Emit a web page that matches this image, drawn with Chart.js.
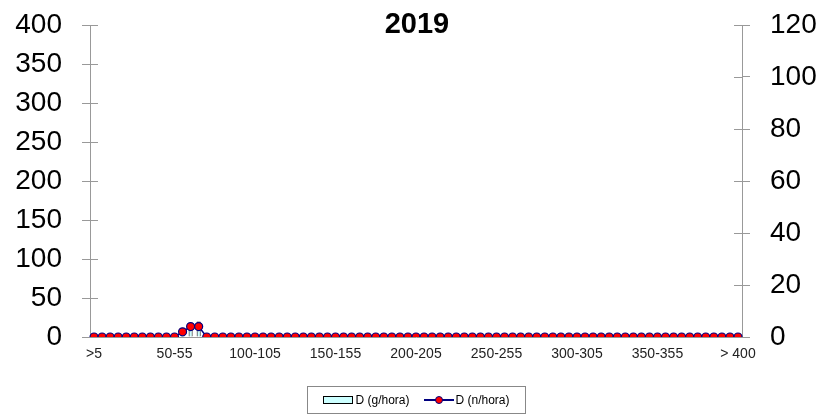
<!DOCTYPE html>
<html>
<head>
<meta charset="utf-8">
<script src="https://cdn.jsdelivr.net/npm/chart.js@4"></script>
<style>
    body { margin: 0; background: #fff; font-family: "Liberation Sans", Arial, sans-serif; }
    #wrap { position: relative; width: 822px; height: 416px; }
    #title { position: absolute; left: 0; width: 834px; top: 7px; text-align: center; font-weight: bold; font-size: 29px; color: #000; }
    #legend { position: absolute; left: 307px; top: 386px; width: 219px; height: 28px; border: 1px solid #888; box-sizing: border-box;
        display: flex; align-items: center; justify-content: center; font-size: 12px; color: #000; }
    .sw-bar { display: inline-block; width: 28px; height: 6px; background: #ccffff; border: 1px solid #000; margin-right: 2px; }
    .sw-line { display: inline-block; position: relative; width: 30px; height: 10px; margin: 0 2px 0 14px; }
    .sw-line::before { content: ''; position: absolute; left: 0; right: 0; top: 4px; height: 1.5px; background: #000080; }
    .sw-line::after { content: ''; position: absolute; left: 11px; top: 1px; width: 6px; height: 6px; border-radius: 50%; background: #ff0000; border: 1px solid #000080; }
</style>
</head>
<body>
<div id="wrap">
    <canvas id="chart" width="822" height="416"></canvas>
    <div id="title">2019</div>
    <div id="legend">
        <span class="sw-bar"></span>D (g/hora)
        <span class="sw-line"></span>D (n/hora)
    </div>
</div>
<script>
const categories = [
    '>5', '5-10', '10-15', '15-20', '20-25', '25-30', '30-35', '35-40', '40-45', '45-50',
    '50-55', '55-60', '60-65', '65-70', '70-75', '75-80', '80-85', '85-90', '90-95', '95-100',
    '100-105', '105-110', '110-115', '115-120', '120-125', '125-130', '130-135', '135-140', '140-145', '145-150',
    '150-155', '155-160', '160-165', '165-170', '170-175', '175-180', '180-185', '185-190', '190-195', '195-200',
    '200-205', '205-210', '210-215', '215-220', '220-225', '225-230', '230-235', '235-240', '240-245', '245-250',
    '250-255', '255-260', '260-265', '265-270', '270-275', '275-280', '280-285', '285-290', '290-295', '295-300',
    '300-305', '305-310', '310-315', '315-320', '320-325', '325-330', '330-335', '335-340', '340-345', '345-350',
    '350-355', '355-360', '360-365', '365-370', '370-375', '375-380', '380-385', '385-390', '390-395', '395-400',
    '> 400'
];

// D (g/hora) - left axis
const gramsPerHour = [
    0, 0, 0, 0, 0, 0, 0, 0, 0, 0,
    0, 4, 12, 20, 0, 0, 0, 0, 0, 0,
    0, 0, 0, 0, 0, 0, 0, 0, 0, 0,
    0, 0, 0, 0, 0, 0, 0, 0, 0, 0,
    0, 0, 0, 0, 0, 0, 0, 0, 0, 0,
    0, 0, 0, 0, 0, 0, 0, 0, 0, 0,
    0, 0, 0, 0, 0, 0, 0, 0, 0, 0,
    0, 0, 0, 0, 0, 0, 0, 0, 0, 0,
    0
];

// D (n/hora) - right axis
const countPerHour = [
    0, 0, 0, 0, 0, 0, 0, 0, 0, 0,
    0, 2, 4, 4, 0, 0, 0, 0, 0, 0,
    0, 0, 0, 0, 0, 0, 0, 0, 0, 0,
    0, 0, 0, 0, 0, 0, 0, 0, 0, 0,
    0, 0, 0, 0, 0, 0, 0, 0, 0, 0,
    0, 0, 0, 0, 0, 0, 0, 0, 0, 0,
    0, 0, 0, 0, 0, 0, 0, 0, 0, 0,
    0, 0, 0, 0, 0, 0, 0, 0, 0, 0,
    0
];

const leftTicks = [0, 50, 100, 150, 200, 250, 300, 350, 400];
const rightTicks = [0, 20, 40, 60, 80, 100, 120];

const axisGray = '#999999';

// ticks that cross the axis line (inner half)
const innerTicks = {
    id: 'innerTicks',
    afterDraw(chart) {
        const ctx = chart.ctx;
        ctx.save();
        ctx.strokeStyle = axisGray;
        ctx.lineWidth = 1;
        ['y', 'y1'].forEach(id => {
            const s = chart.scales[id];
            const x = id === 'y' ? s.right : s.left;
            const dir = id === 'y' ? 1 : -1;
            s.ticks.forEach(t => {
                const py = Math.round(s.getPixelForValue(t.value)) + 0.5;
                ctx.beginPath();
                ctx.moveTo(x, py);
                ctx.lineTo(x + dir * 8, py);
                ctx.stroke();
            });
        });
        ctx.restore();
    }
};

new Chart(document.getElementById('chart'), {
    data: {
        labels: categories,
        datasets: [
            {
                type: 'line',
                label: 'D (n/hora)',
                data: countPerHour,
                yAxisID: 'y1',
                borderColor: '#000080',
                borderWidth: 1.5,
                backgroundColor: '#ff0000',
                pointBackgroundColor: '#ff0000',
                pointBorderColor: '#000080',
                pointBorderWidth: 1.2,
                pointRadius: 4,
                tension: 0,
                order: 0
            },
            {
                type: 'bar',
                label: 'D (g/hora)',
                data: gramsPerHour,
                yAxisID: 'y',
                backgroundColor: '#ccffff',
                borderColor: '#000000',
                borderWidth: 1,
                barPercentage: 0.5,
                categoryPercentage: 1,
                order: 1
            }
        ]
    },
    options: {
        responsive: false,
        animation: false,
        devicePixelRatio: 1,
        layout: { padding: { top: 25, left: 0, right: 0, bottom: 0 } },
        plugins: {
            legend: { display: false },
            tooltip: { enabled: false }
        },
        scales: {
            x: {
                grid: { display: false, drawTicks: false },
                border: { color: axisGray },
                ticks: {
                    autoSkip: false,
                    maxRotation: 0,
                    padding: 9,
                    color: '#222',
                    font: { family: 'Liberation Sans', size: 14 },
                    callback: function(value, index) {
                        return index % 10 === 0 ? categories[index] : '';
                    }
                },
                afterFit: function(scale) { scale.height = 79; }
            },
            y: {
                position: 'left',
                min: 0,
                max: 400,
                afterBuildTicks: function(scale) {
                    scale.ticks = leftTicks.map(v => ({ value: v }));
                },
                grid: { drawOnChartArea: false, tickLength: 8, color: axisGray },
                border: { color: axisGray },
                ticks: {
                    padding: 20,
                    color: '#000',
                    font: { family: 'Liberation Sans', size: 28 }
                },
                afterFit: function(scale) {
                    scale.width = 90;
                    scale.paddingTop = 0;
                    scale.paddingBottom = 0;
                }
            },
            y1: {
                position: 'right',
                min: 0,
                max: 120,
                afterBuildTicks: function(scale) {
                    scale.ticks = rightTicks.map(v => ({ value: v }));
                },
                grid: { drawOnChartArea: false, tickLength: 8, color: axisGray },
                border: { color: axisGray },
                ticks: {
                    padding: 20,
                    color: '#000',
                    font: { family: 'Liberation Sans', size: 28 }
                },
                afterFit: function(scale) {
                    scale.width = 80;
                    scale.paddingTop = 0;
                    scale.paddingBottom = 0;
                }
            }
        }
    },
    plugins: [innerTicks]
});
</script>
</body>
</html>
